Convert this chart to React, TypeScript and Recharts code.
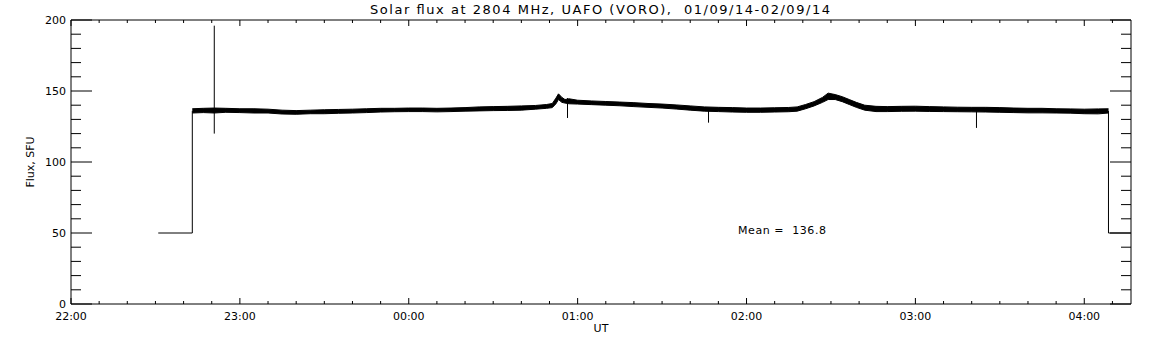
import React from 'react';
import { ComposedChart, Area, Line, XAxis, YAxis } from 'recharts';

// Time in minutes since 22:00 UT (01/09/14)
const bandTimes = [
  43.1, 47, 50.9, 55, 60, 65, 70, 75, 80, 85, 90, 95, 100, 105, 110, 115, 120, 125, 130, 135,
  140, 145, 150, 155, 160, 165, 169, 171, 172.3, 173.2, 174.4, 175.5, 177, 180, 185, 190, 195,
  200, 205, 210, 215, 220, 225, 230, 235, 240, 245, 250, 255, 258, 261, 264, 267, 269, 271.5,
  274, 276.5, 279, 282, 286, 290, 295, 300, 305, 310, 315, 320, 325, 330, 335, 340, 345, 350,
  355, 360, 365, 368.6,
];
const bandLow = [
  134.5, 134.8, 134.5, 135, 134.8, 134.5, 134.5, 133.8, 133.6, 134, 134, 134.3, 134.5, 134.8, 135.2, 135.4, 135.5, 135.5, 135.3, 135.5,
  135.8, 136, 136.2, 136.3, 136.5, 137.2, 137.8, 138.3, 141, 144, 142, 141.5, 141, 140.8, 140.4, 140, 139.6,
  139, 138.5, 138, 137.3, 136.5, 135.8, 135.5, 135.2, 135, 135, 135.2, 135.4, 135.8, 137.5, 139.5, 142, 144, 144,
  142.5, 140.5, 138.5, 136.5, 135.5, 135.5, 135.7, 135.8, 135.6, 135.5, 135.4, 135.3, 135.2, 135, 134.8, 134.6, 134.6, 134.5,
  134.4, 134, 133.9, 134.5,
];
const bandHigh = [
  137.5, 137.8, 138, 137.8, 137.5, 137.5, 137.2, 136.5, 136.2, 136.5, 136.8, 137, 137.2, 137.5, 137.8, 137.8, 138, 138, 137.8, 138,
  138.3, 138.8, 139, 139.2, 139.5, 139.8, 140.5, 141.2, 145, 148, 145.5, 144, 144.5, 143.5, 143, 142.6, 142.2,
  141.8, 141.2, 140.8, 140.2, 139.5, 138.8, 138.5, 138.3, 138, 138, 138.2, 138.4, 138.8, 140.5, 142.5, 145.5, 148.5, 147.5,
  146, 144, 142, 140, 139.2, 139, 139.2, 139.3, 139, 138.8, 138.6, 138.5, 138.5, 138.3, 138, 137.8, 137.8, 137.5,
  137.4, 137.2, 137.4, 137.5,
];

const stepLeftTimes = [31.0, 43.1, 43.1];
const stepLeftValues = [50, 50, 136];
const stepRightTimes = [368.6, 368.6, 376.6];
const stepRightValues = [136, 50, 50];

const spikeTimes = [50.9, 176.4, 226.5, 321.7];
const spikeLow = [120, 131, 127.7, 124];
const spikeHigh = [196, 145, 137, 137];

const xTicks = [
  0, 10, 20, 30, 40, 50, 60, 70, 80, 90, 100, 110, 120, 130, 140, 150, 160, 170, 180, 190,
  200, 210, 220, 230, 240, 250, 260, 270, 280, 290, 300, 310, 320, 330, 340, 350, 360, 370,
];
const xMajorTicks = [0, 60, 120, 180, 240, 300, 360];
const xTickLabels = ['22:00', '23:00', '00:00', '01:00', '02:00', '03:00', '04:00'];
const yTicks = [0, 10, 20, 30, 40, 50, 60, 70, 80, 90, 100, 110, 120, 130, 140, 150, 160, 170, 180, 190, 200];
const yMajorTicks = [0, 50, 100, 150, 200];
const yTickLabels = ['0', '50', '100', '150', '200'];

const bandData = bandTimes.map((t, i) => ({ t, range: [bandLow[i], bandHigh[i]] }));
const stepLeftData = stepLeftTimes.map((t, i) => ({ t, v: stepLeftValues[i] }));
const stepRightData = stepRightTimes.map((t, i) => ({ t, v: stepRightValues[i] }));
const spikeData = spikeTimes.map((t, i) => [
  { t, v: spikeLow[i] },
  { t, v: spikeHigh[i] },
]);

const FONT = 'DejaVu Sans';

const XBottomTick = (p: any) => {
  const v = p.payload.value;
  const mi = xMajorTicks.indexOf(v);
  const major = mi >= 0;
  return (
    <g>
      <line x1={p.x} x2={p.x} y1={p.y} y2={p.y - (major ? 6 : 3)} stroke="#000" strokeWidth={1} />
      {major && (
        <text x={p.x} y={p.y + 15.5} textAnchor="middle" fontFamily={FONT} fontSize={11} fill="#000">
          {xTickLabels[mi]}
        </text>
      )}
    </g>
  );
};
const XTopTick = (p: any) => {
  const v = p.payload.value;
  const major = xMajorTicks.indexOf(v) >= 0;
  return <line x1={p.x} x2={p.x} y1={p.y} y2={p.y + (major ? 6 : 3)} stroke="#000" strokeWidth={1} />;
};
const YLeftTick = (p: any) => {
  const v = p.payload.value;
  const mi = yMajorTicks.indexOf(v);
  const major = mi >= 0;
  return (
    <g>
      <line x1={p.x} x2={p.x + (major ? 21 : 10)} y1={p.y} y2={p.y} stroke="#000" strokeWidth={1} />
      {major && (
        <text x={p.x - 5} y={p.y + 4} textAnchor="end" fontFamily={FONT} fontSize={11} fill="#000">
          {yTickLabels[mi]}
        </text>
      )}
    </g>
  );
};
const YRightTick = (p: any) => {
  const v = p.payload.value;
  const major = yMajorTicks.indexOf(v) >= 0;
  return <line x1={p.x} x2={p.x - (major ? 21 : 10)} y1={p.y} y2={p.y} stroke="#000" strokeWidth={1} />;
};

export default function App() {
  return (
    <div style={{ position: 'absolute', left: 0, top: 0, width: 1152, height: 345, background: '#fff' }}>
      <ComposedChart width={1152} height={345} data={bandData} margin={{ top: 0, right: 0, bottom: 0, left: 0 }}>
        <XAxis
          xAxisId={0}
          dataKey="t"
          type="number"
          domain={[0, 376.6]}
          allowDataOverflow
          ticks={xTicks}
          interval={0}
          height={41}
          tickSize={0}
          tickMargin={0}
          tickLine={false}
          axisLine={{ stroke: '#000', strokeWidth: 1 }}
          tick={(p: any) => <XBottomTick {...p} />}
        />
        <XAxis
          xAxisId="top"
          orientation="top"
          dataKey="t"
          type="number"
          domain={[0, 376.6]}
          allowDataOverflow
          ticks={xTicks}
          interval={0}
          height={20}
          tickSize={0}
          tickMargin={0}
          tickLine={false}
          axisLine={{ stroke: '#000', strokeWidth: 1 }}
          tick={(p: any) => <XTopTick {...p} />}
        />
        <YAxis
          yAxisId={0}
          type="number"
          domain={[0, 200]}
          allowDataOverflow
          ticks={yTicks}
          interval={0}
          width={71}
          tickSize={0}
          tickMargin={0}
          tickLine={false}
          axisLine={{ stroke: '#000', strokeWidth: 1 }}
          tick={(p: any) => <YLeftTick {...p} />}
        />
        <YAxis
          yAxisId="right"
          orientation="right"
          type="number"
          domain={[0, 200]}
          allowDataOverflow
          ticks={yTicks}
          interval={0}
          width={21}
          tickSize={0}
          tickMargin={0}
          tickLine={false}
          axisLine={{ stroke: '#000', strokeWidth: 1 }}
          tick={(p: any) => <YRightTick {...p} />}
        />
        <Area
          dataKey="range"
          type="linear"
          stroke="#000"
          strokeWidth={1}
          fill="#000"
          fillOpacity={1}
          dot={false}
          activeDot={false}
          isAnimationActive={false}
        />
        <Line data={stepLeftData} dataKey="v" type="linear" stroke="#000" strokeWidth={1} dot={false} activeDot={false} isAnimationActive={false} />
        <Line data={stepRightData} dataKey="v" type="linear" stroke="#000" strokeWidth={1} dot={false} activeDot={false} isAnimationActive={false} />
        {spikeData.map((d, i) => (
          <Line key={i} data={d} dataKey="v" type="linear" stroke="#000" strokeWidth={1} dot={false} activeDot={false} isAnimationActive={false} />
        ))}
      </ComposedChart>
      <svg width={1152} height={345} style={{ position: 'absolute', left: 0, top: 0, pointerEvents: 'none' }}>
        <text x={600} y={14} textAnchor="middle" fontFamily={FONT} fontSize={13} fill="#000" textLength={460} lengthAdjust="spacing" style={{ whiteSpace: 'pre' }}>
          {'Solar flux at 2804 MHz, UAFO (VORO),  01/09/14-02/09/14'}
        </text>
        <text x={601} y={332} textAnchor="middle" fontFamily={FONT} fontSize={11} fill="#000">
          UT
        </text>
        <text x={34} y={162} textAnchor="middle" fontFamily={FONT} fontSize={11} fill="#000" transform="rotate(-90 34 162)">
          Flux, SFU
        </text>
        <text x={738} y={234} fontFamily={FONT} fontSize={11} fill="#000" textLength={88} lengthAdjust="spacing" style={{ whiteSpace: 'pre' }}>
          {'Mean =  136.8'}
        </text>
      </svg>
    </div>
  );
}
